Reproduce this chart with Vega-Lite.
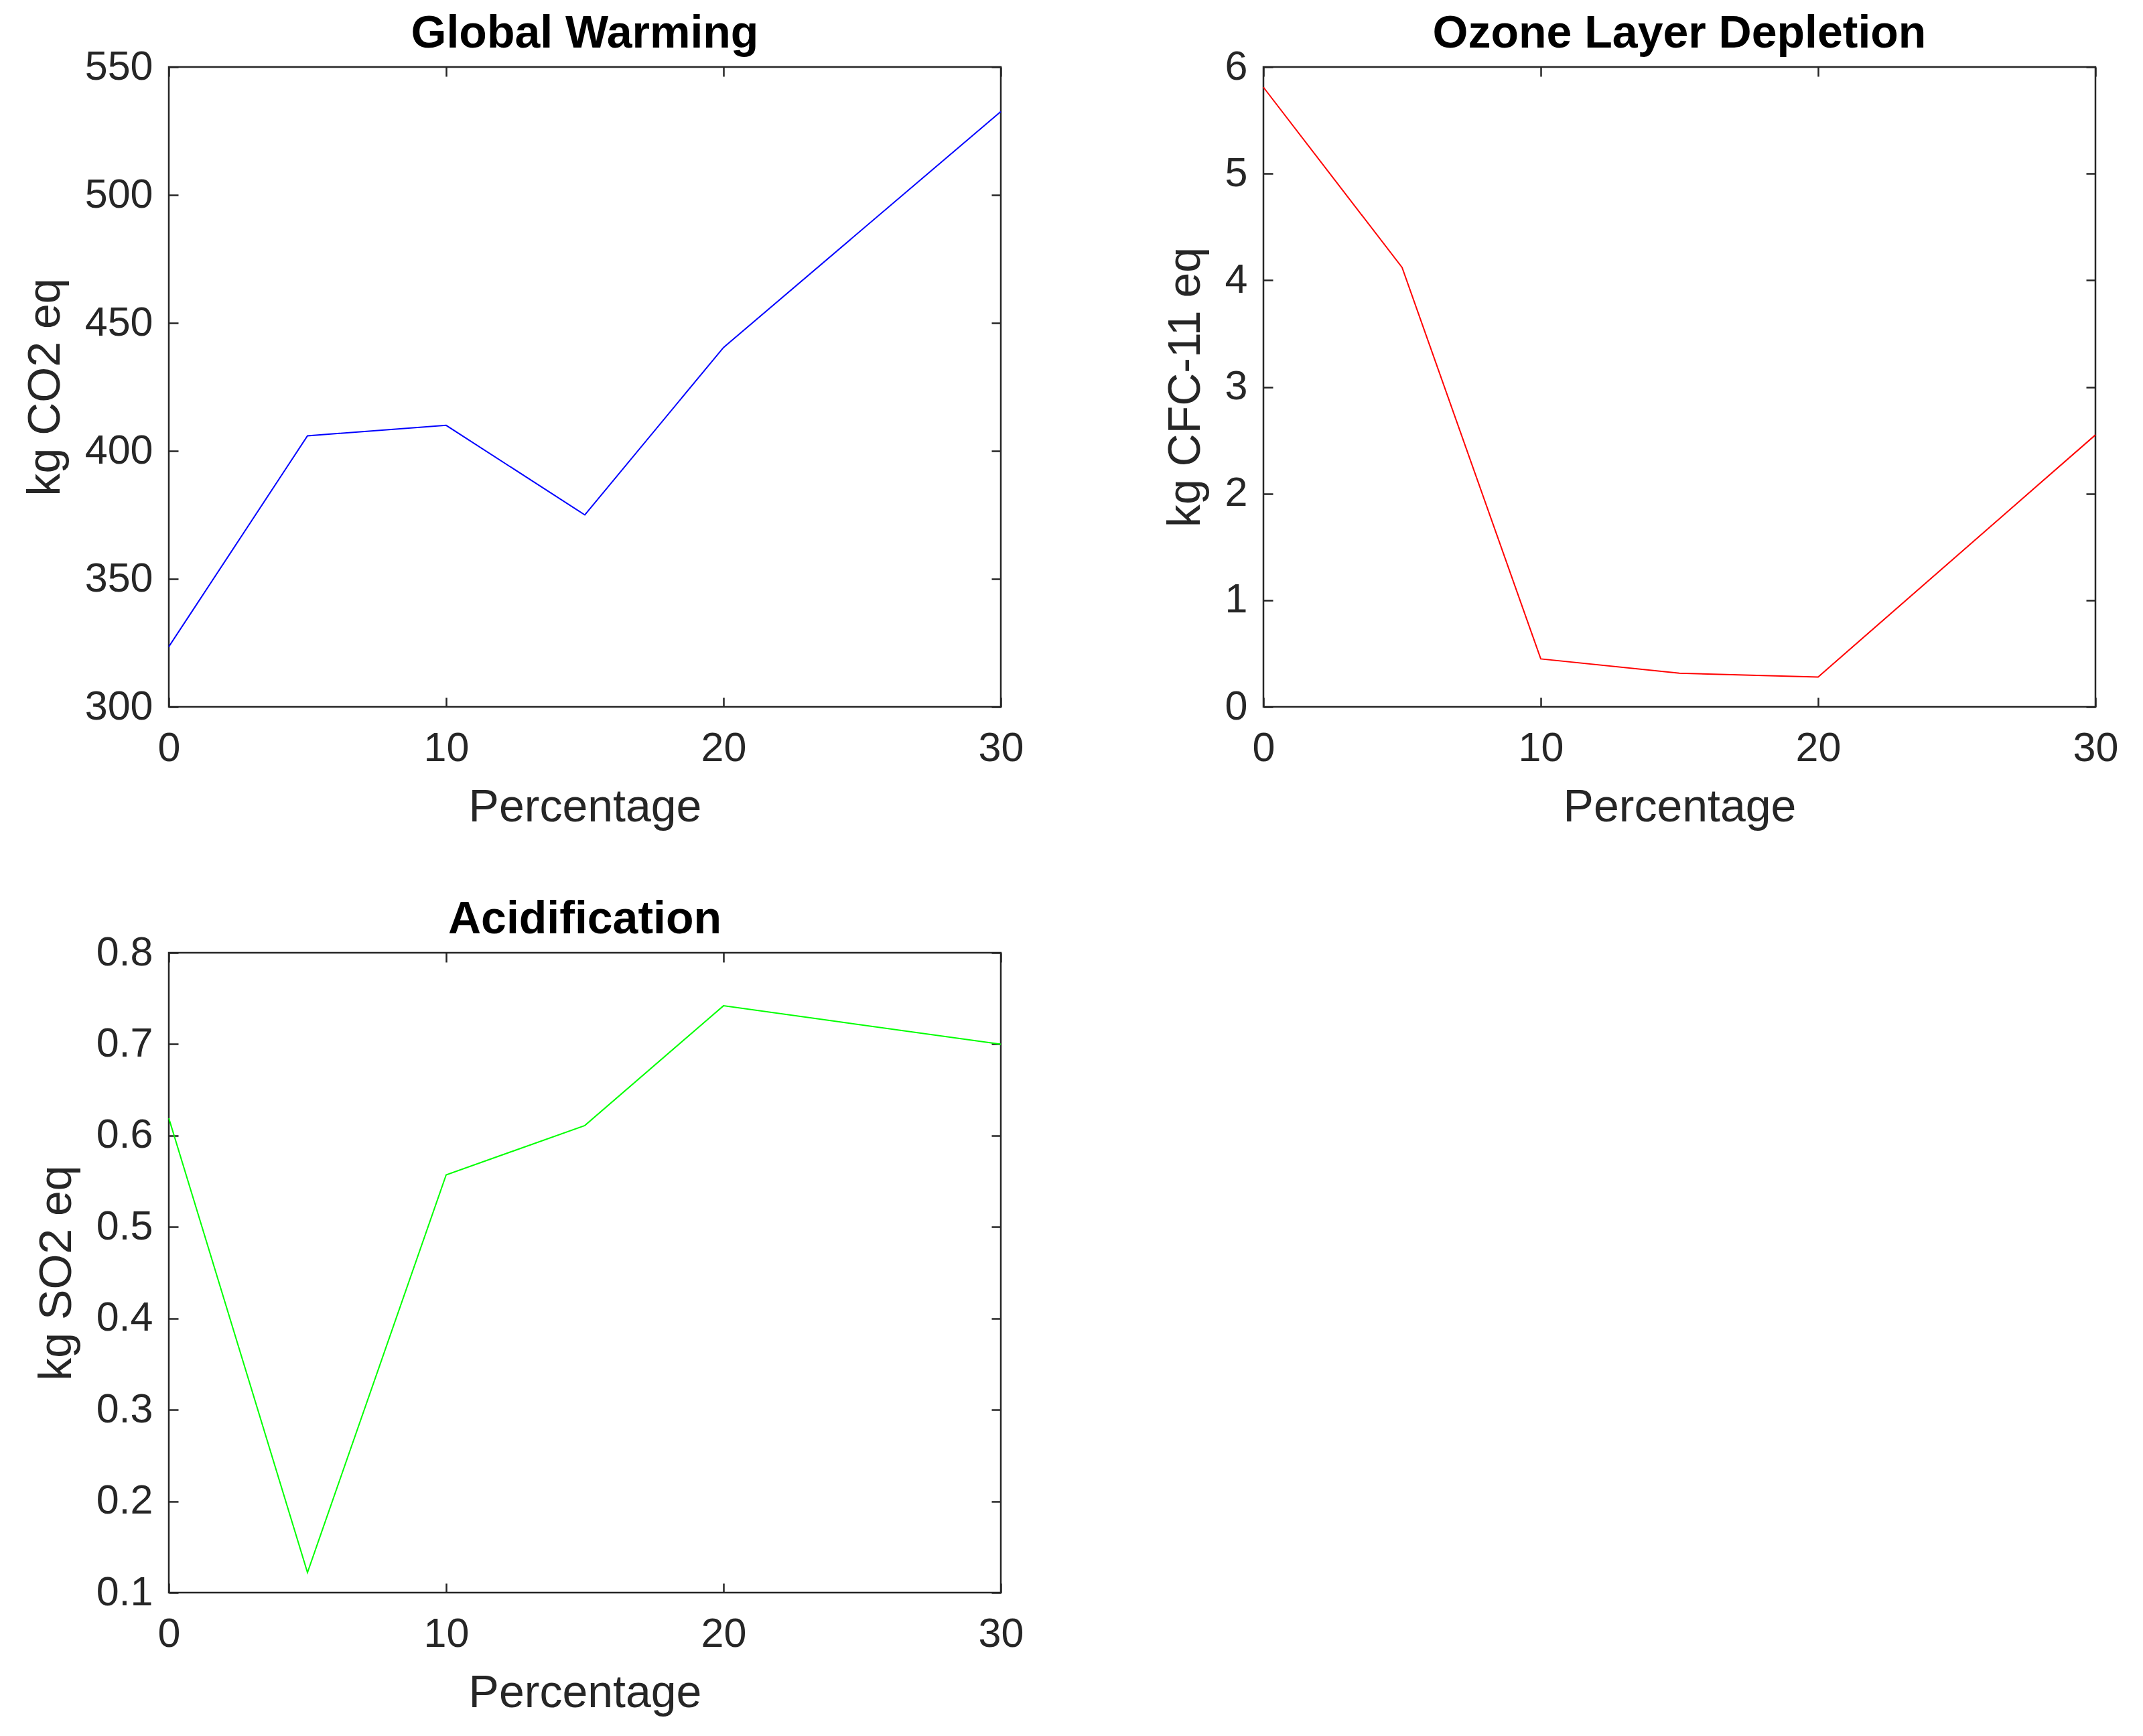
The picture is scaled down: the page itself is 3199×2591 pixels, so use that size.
{
  "$schema": "https://vega.github.io/schema/vega-lite/v6.json",
  "background": "white",
  "padding": {"left": 32, "top": 15, "right": 10, "bottom": 10},
  "config": {
    "font": "Liberation Sans",
    "view": {"stroke": "#262626", "strokeWidth": 2.5},
    "axis": {
      "grid": false,
      "domain": false,
      "ticks": true,
      "tickColor": "#262626",
      "tickWidth": 2.5,
      "tickSize": -14,
      "labelFont": "Liberation Sans",
      "labelFontSize": 61,
      "labelColor": "#262626",
      "labelFlush": false,
      "labelOverlap": false,
      "labelPadding": 38,
      "titleFont": "Liberation Sans",
      "titleFontSize": 68,
      "titleFontWeight": "normal",
      "titleColor": "#262626",
      "titlePadding": 24
    },
    "axisX": {"labelPadding": 46, "titlePadding": 24},
    "title": {"font": "Liberation Sans", "fontSize": 68, "fontWeight": "bold", "color": "#000000", "offset": -16}
  },
  "datasets": {
    "gw": [
      {"pct": 0, "v": 323.5},
      {"pct": 5, "v": 405.9},
      {"pct": 10, "v": 410.0},
      {"pct": 15, "v": 375.0},
      {"pct": 20, "v": 440.4},
      {"pct": 30, "v": 532.6}
    ],
    "oz": [
      {"pct": 0, "v": 5.81},
      {"pct": 5, "v": 4.12},
      {"pct": 10, "v": 0.45},
      {"pct": 15, "v": 0.315},
      {"pct": 20, "v": 0.28},
      {"pct": 30, "v": 2.55}
    ],
    "ac": [
      {"pct": 0, "v": 0.619},
      {"pct": 5, "v": 0.122},
      {"pct": 10, "v": 0.557},
      {"pct": 15, "v": 0.611},
      {"pct": 20, "v": 0.742},
      {"pct": 30, "v": 0.700}
    ]
  },
  "columns": 2,
  "spacing": {"row": 96, "column": 204},
  "concat": [
    {
      "title": "Global Warming",
      "width": 1242,
      "height": 955,
      "data": {"name": "gw"},
      "layer": [
        {
          "mark": {"type": "line", "color": "#0000ff", "strokeWidth": 2},
          "encoding": {
            "x": {"field": "pct", "type": "quantitative", "scale": {"domain": [0, 30], "nice": false}, "axis": {"values": [0, 10, 20, 30], "title": "Percentage"}},
            "y": {"field": "v", "type": "quantitative", "scale": {"domain": [300, 550], "nice": false, "zero": false}, "axis": {"values": [300, 350, 400, 450, 500, 550], "title": "kg CO2 eq"}}
          }
        },
        {
          "mark": {"type": "line", "opacity": 0},
          "encoding": {
            "x": {"field": "pct", "type": "quantitative", "axis": {"orient": "top", "values": [0, 10, 20, 30], "labels": false, "title": null}},
            "y": {"field": "v", "type": "quantitative", "axis": {"orient": "right", "values": [300, 350, 400, 450, 500, 550], "labels": false, "title": null}}
          }
        }
      ],
      "resolve": {"axis": {"x": "independent", "y": "independent"}}
    },
    {
      "title": "Ozone Layer Depletion",
      "width": 1242,
      "height": 955,
      "data": {"name": "oz"},
      "layer": [
        {
          "mark": {"type": "line", "color": "#ff0000", "strokeWidth": 2},
          "encoding": {
            "x": {"field": "pct", "type": "quantitative", "scale": {"domain": [0, 30], "nice": false}, "axis": {"values": [0, 10, 20, 30], "title": "Percentage"}},
            "y": {"field": "v", "type": "quantitative", "scale": {"domain": [0, 6], "nice": false}, "axis": {"values": [0, 1, 2, 3, 4, 5, 6], "title": "kg CFC-11 eq"}}
          }
        },
        {
          "mark": {"type": "line", "opacity": 0},
          "encoding": {
            "x": {"field": "pct", "type": "quantitative", "axis": {"orient": "top", "values": [0, 10, 20, 30], "labels": false, "title": null}},
            "y": {"field": "v", "type": "quantitative", "axis": {"orient": "right", "values": [0, 1, 2, 3, 4, 5, 6], "labels": false, "title": null}}
          }
        }
      ],
      "resolve": {"axis": {"x": "independent", "y": "independent"}}
    },
    {
      "title": "Acidification",
      "width": 1242,
      "height": 955,
      "data": {"name": "ac"},
      "layer": [
        {
          "mark": {"type": "line", "color": "#00ff00", "strokeWidth": 2},
          "encoding": {
            "x": {"field": "pct", "type": "quantitative", "scale": {"domain": [0, 30], "nice": false}, "axis": {"values": [0, 10, 20, 30], "title": "Percentage"}},
            "y": {"field": "v", "type": "quantitative", "scale": {"domain": [0.1, 0.8], "nice": false, "zero": false}, "axis": {"values": [0.1, 0.2, 0.3, 0.4, 0.5, 0.6, 0.7, 0.8], "format": ".1f", "title": "kg SO2 eq"}}
          }
        },
        {
          "mark": {"type": "line", "opacity": 0},
          "encoding": {
            "x": {"field": "pct", "type": "quantitative", "axis": {"orient": "top", "values": [0, 10, 20, 30], "labels": false, "title": null}},
            "y": {"field": "v", "type": "quantitative", "axis": {"orient": "right", "values": [0.1, 0.2, 0.3, 0.4, 0.5, 0.6, 0.7, 0.8], "labels": false, "title": null}}
          }
        }
      ],
      "resolve": {"axis": {"x": "independent", "y": "independent"}}
    }
  ]
}
